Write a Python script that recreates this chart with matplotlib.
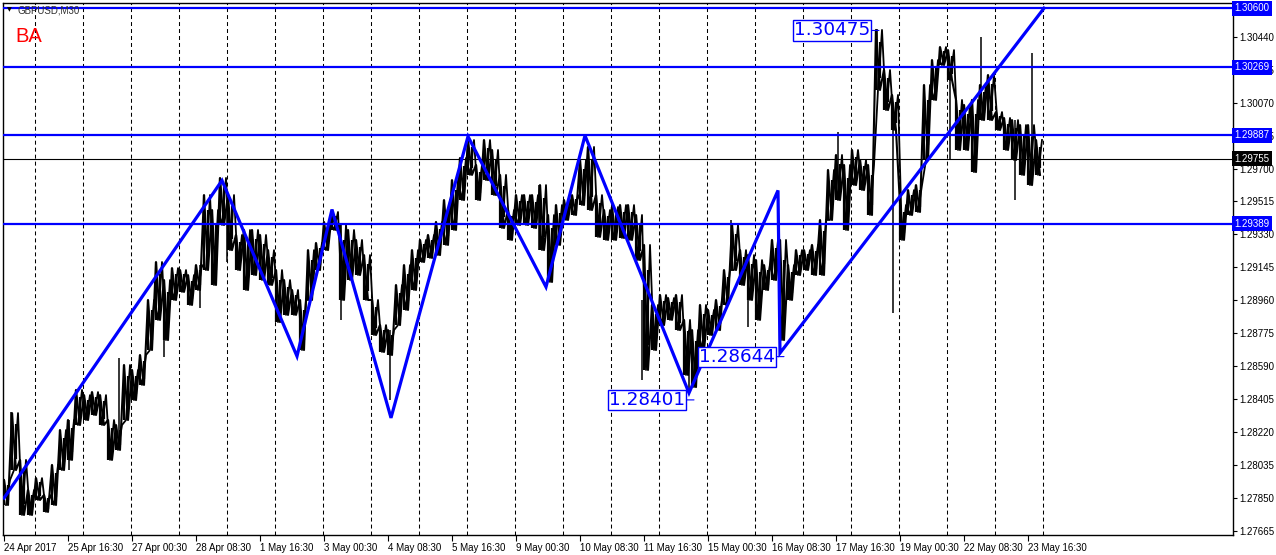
import numpy as np
import matplotlib
matplotlib.use("Agg")
import matplotlib.pyplot as plt
from matplotlib.transforms import blended_transform_factory

# ---------------- data (GBPUSD, M30) ----------------
STEP = 8  # bars between samples
high = [1.27951, 1.28327, 1.28064, 1.27895, 1.27962, 1.27867, 1.28036, 1.28232, 1.28288, 1.28457,
        1.28428, 1.28445, 1.28428, 1.28288, 1.28260, 1.28597, 1.28569, 1.28653, 1.28962, 1.29175,
        1.29074, 1.29141, 1.29130, 1.29102, 1.29158, 1.29551, 1.29467, 1.29647, 1.29551, 1.29327,
        1.29355, 1.29355, 1.29327, 1.29242, 1.29130, 1.29074, 1.29018, 1.28962, 1.29242, 1.29282,
        1.29400, 1.29456, 1.29383, 1.29355, 1.29299, 1.29214, 1.28962, 1.28821, 1.28793, 1.29046,
        1.29158, 1.29242, 1.29299, 1.29327, 1.29400, 1.29523, 1.29635, 1.29759, 1.29860, 1.29720,
        1.29860, 1.29804, 1.29664, 1.29467, 1.29551, 1.29551, 1.29551, 1.29607, 1.29439, 1.29495,
        1.29523, 1.29551, 1.29748, 1.29821, 1.29551, 1.29467, 1.29484, 1.29495, 1.29495, 1.29439,
        1.29271, 1.28934, 1.28990, 1.28973, 1.28990, 1.28850, 1.28793, 1.28934, 1.28906, 1.28962,
        1.29130, 1.29383, 1.29242, 1.29214, 1.29186, 1.29158, 1.29299, 1.29299, 1.29158, 1.29242,
        1.29242, 1.29271, 1.29411, 1.29692, 1.29776, 1.29720, 1.29804, 1.29748, 1.29720, 1.30478,
        1.30253, 1.30113, 1.29495, 1.29579, 1.29607, 1.30169, 1.30309, 1.30382, 1.30365, 1.30085,
        1.30057, 1.30085, 1.30169, 1.30225, 1.30017, 1.29984, 1.29972, 1.29944, 1.29944, 1.29860]
low = [1.27811, 1.28007, 1.27755, 1.27755, 1.27839, 1.27772, 1.27811, 1.28007, 1.28064, 1.28260,
       1.28288, 1.28316, 1.28260, 1.28064, 1.28120, 1.28288, 1.28400, 1.28485, 1.28681, 1.28850,
       1.28737, 1.28962, 1.29007, 1.28934, 1.29018, 1.29130, 1.29046, 1.29383, 1.29242, 1.29130,
       1.29018, 1.29102, 1.29074, 1.29046, 1.28838, 1.28878, 1.28878, 1.28681, 1.28962, 1.29130,
       1.29242, 1.29355, 1.28962, 1.29074, 1.29102, 1.28962, 1.28765, 1.28670, 1.28653, 1.28821,
       1.28906, 1.29018, 1.29175, 1.29198, 1.29214, 1.29271, 1.29355, 1.29523, 1.29664, 1.29523,
       1.29635, 1.29551, 1.29366, 1.29299, 1.29383, 1.29383, 1.29366, 1.29242, 1.29063, 1.29271,
       1.29411, 1.29439, 1.29495, 1.29467, 1.29316, 1.29299, 1.29299, 1.29310, 1.29299, 1.29186,
       1.28569, 1.28681, 1.28821, 1.28850, 1.28793, 1.28541, 1.28473, 1.28681, 1.28765, 1.28793,
       1.28934, 1.29130, 1.29046, 1.28962, 1.28850, 1.29018, 1.29074, 1.28737, 1.28962, 1.29102,
       1.29130, 1.29102, 1.29102, 1.29411, 1.29523, 1.29355, 1.29607, 1.29579, 1.29439, 1.30141,
       1.30028, 1.29916, 1.29299, 1.29439, 1.29456, 1.29748, 1.30085, 1.30281, 1.30197, 1.29804,
       1.29804, 1.29680, 1.29972, 1.29972, 1.29916, 1.29804, 1.29748, 1.29664, 1.29607, 1.29664]

# single-bar spikes (bar index, high, low)
wick_bars = [7, 65, 115, 160, 196, 223, 337, 386, 535, 638, 685, 727, 744, 834, 873, 889, 946, 977, 1011, 1028]
wick_high = [1.28333, 1.28288, 1.28636, 1.29074, 1.29158, 1.29523, 1.29383, 1.28793, 1.29607, 1.28962,
             1.28793, 1.29411, 1.29186, 1.29905, 1.30483, 1.29972, 1.30225, 1.30438, 1.29972, 1.30349]
wick_low = [1.28007, 1.28007, 1.28193, 1.28642, 1.28917, 1.29175, 1.28850, 1.28400, 1.29242, 1.28513,
            1.28445, 1.29130, 1.28810, 1.29523, 1.30141, 1.28889, 1.29748, 1.29972, 1.29523, 1.29664]

levels = [1.30600, 1.30269, 1.29887, 1.29389]
current_price = 1.29755

zig_bars = [0, 218, 293, 328, 387, 464, 542, 581, 685, 774, 776, 1040]
zig_prices = [1.27850, 1.29633, 1.28646, 1.29470, 1.28300, 1.29880, 1.29035, 1.29885,
              1.28440, 1.29577, 1.28664, 1.30600]

label_bars = [875, 690, 780]
label_values = [1.30475, 1.28401, 1.28644]

ytick_values = [1.27665, 1.27850, 1.28035, 1.28220, 1.28405, 1.28590, 1.28775, 1.28960,
                1.29145, 1.29330, 1.29515, 1.29700, 1.29885, 1.30070, 1.30255, 1.30440]
xtick_labels = ["24 Apr 2017", "25 Apr 16:30", "27 Apr 00:30", "28 Apr 08:30", "1 May 16:30",
                "3 May 00:30", "4 May 08:30", "5 May 16:30", "9 May 00:30", "10 May 08:30",
                "11 May 16:30", "15 May 00:30", "16 May 08:30", "17 May 16:30", "19 May 00:30",
                "22 May 08:30", "23 May 16:30"]
BARS_PER_LABEL = 64

# ---------------- figure ----------------
W, H = 1276, 555
fig = plt.figure(figsize=(W / 100, H / 100), dpi=100)
fig.patch.set_facecolor("white")
ax = fig.add_axes([3 / W, 20 / H, 1230 / W, 532 / H])
ax.set_facecolor("white")

FONT = "Liberation Sans"
BLUE = "#0000ff"

bars = np.arange(len(high)) * STEP
high = np.asarray(high)
low = np.asarray(low)

# vertical dashed grid
for gx in np.arange(31, 1045, 48):
    ax.axvline(gx, color="black", lw=0.75, ls=(0, (3.8, 2.9)), zorder=1)

# price: jagged high/low trace, bar segments and single-bar spikes
zx = np.empty(2 * len(bars))
zy = np.empty(2 * len(bars))
zx[0::2] = bars
zx[1::2] = bars + STEP / 2
zy[0::2] = high
zy[1::2] = low
ax.plot(zx, zy, color="black", lw=1.5, zorder=3)
zy2 = np.empty_like(zy)
zy2[0::2] = low
zy2[1::2] = high
ax.plot(zx + STEP / 4, zy2, color="black", lw=1.3, zorder=3)
ax.vlines(bars, low, high, color="black", lw=1.6, zorder=3)
ax.vlines(bars + STEP / 2, low + (high - low) * 0.2, high - (high - low) * 0.2,
          color="black", lw=1.6, zorder=3)
ax.vlines(wick_bars, wick_low, wick_high, color="black", lw=1.1, zorder=3)

# current price line
ax.axhline(current_price, color="black", lw=0.8, zorder=2)

# horizontal levels
for lv in levels:
    ax.axhline(lv, color=BLUE, lw=1.6, zorder=4)

# zigzag
ax.plot(zig_bars, zig_prices, color=BLUE, lw=2.3, zorder=5, solid_joinstyle="miter")

# price labels on chart
for b, v in zip(label_bars, label_values):
    ax.annotate(f"{v:.5f}", xy=(b, v), xytext=(-47, 0), textcoords="offset pixels",
                ha="center", va="center", fontsize=13.2, color=BLUE, family="DejaVu Sans",
                bbox=dict(boxstyle="square,pad=0.06", fc="white", ec=BLUE, lw=1.0),
                arrowprops=dict(arrowstyle="-", color=BLUE, lw=0.8, shrinkA=0, shrinkB=0),
                zorder=7)

# axes
ax.set_xlim(-1, 1229)
ax.set_ylim(1.276425, 1.306292)
for s in ax.spines.values():
    s.set_color("black")
    s.set_linewidth(1.0)

ax.yaxis.tick_right()
ax.set_yticks(ytick_values)
ax.set_yticklabels([f"{v:.5f}" for v in ytick_values], fontsize=7, family=FONT)
ax.tick_params(axis="y", direction="out", length=3, width=0.8, pad=1.5, colors="black")

ax.set_xticks(np.arange(len(xtick_labels)) * BARS_PER_LABEL)
ax.set_xticklabels(xtick_labels, fontsize=7, family=FONT, ha="left")
ax.tick_params(axis="x", direction="out", length=4, width=0.8, pad=2, colors="black")

# right-side price tags
tr = blended_transform_factory(ax.transAxes, ax.transData)
for lv in levels:
    ax.text(1.0012, lv, f"{lv:.5f}", transform=tr, ha="left", va="center", fontsize=7,
            family=FONT, color="white", clip_on=False, zorder=8,
            bbox=dict(boxstyle="square,pad=0.25", fc=BLUE, ec="none"))
ax.text(1.0012, current_price, f"{current_price:.5f}", transform=tr, ha="left", va="center",
        fontsize=7, family=FONT, color="white", clip_on=False, zorder=8,
        bbox=dict(boxstyle="square,pad=0.25", fc="black", ec="none"))

# titles
fig.text(7 / W, 1 - 10 / H, "\u25bc", fontsize=4.5, family="DejaVu Sans", color="black",
         ha="left", va="center")
fig.text(18 / W, 1 - 10.5 / H, "GBPUSD,M30", fontsize=7, family=FONT, color="#303030",
         ha="left", va="center")
fig.text(15 / W, 1 - 36 / H, "BA", fontsize=14.5, family=FONT, color="#ff0000",
         ha="left", va="center")

fig.savefig("out.png", dpi=100, facecolor="white")
